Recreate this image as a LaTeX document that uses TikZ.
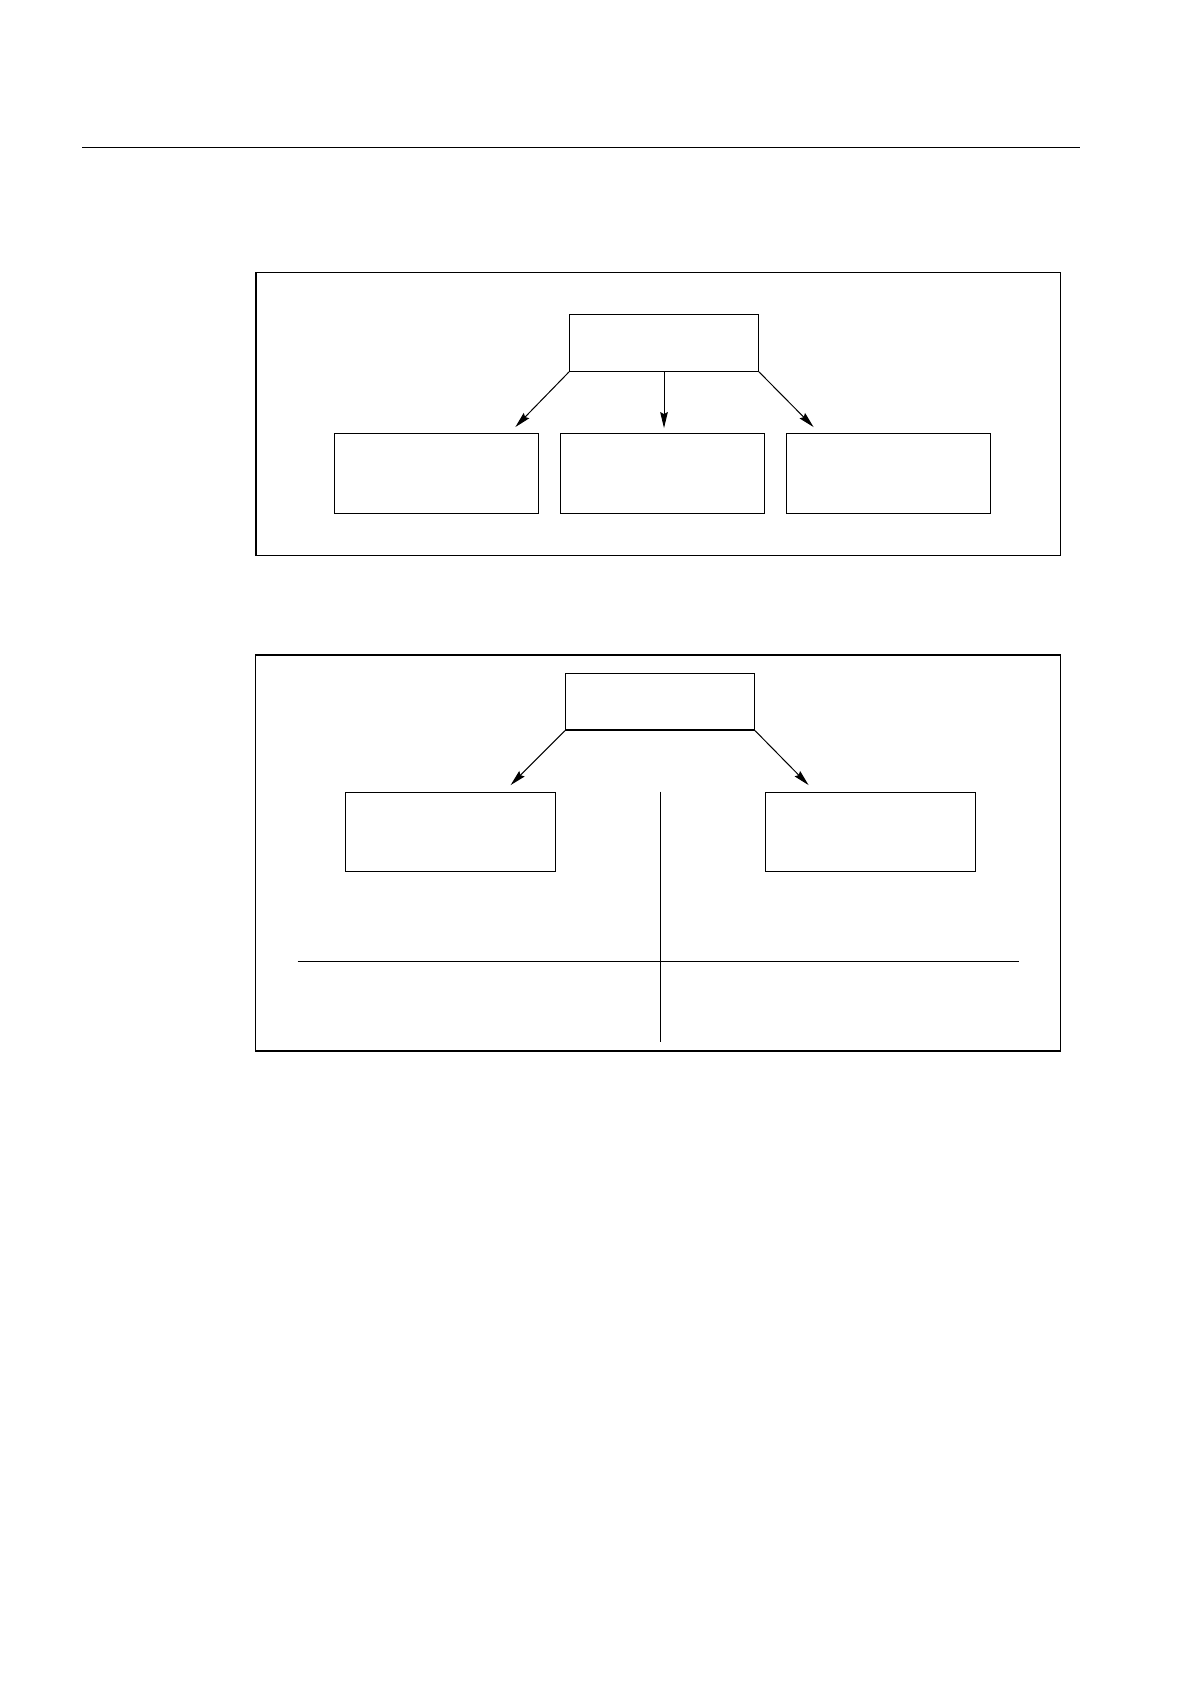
\documentclass[tikz,border=0pt]{standalone}
\usetikzlibrary{arrows.meta}
\begin{document}
\begin{tikzpicture}[>={Stealth[length=8pt,width=3.8pt,inset=1pt]},x=0.5pt,y=-0.5pt,
    headbox/.style={draw,line width=0.6pt,inner sep=0pt,minimum width=94.4pt,minimum height=28.3pt},
    leafbox/.style={draw,line width=0.6pt,inner sep=0pt,minimum width=102.2pt,minimum height=39.8pt},
    sidebox/.style={draw,line width=0.6pt,inner sep=0pt,minimum width=105pt,minimum height=39.5pt}]
        \useasboundingbox (0,0) rectangle (1190,1684);

        \coordinate (rulel) at (82,147.3);
        \coordinate (ruler) at (1080,147.3);
        \draw[line width=0.7pt] (rulel)--(ruler);

        \draw[line width=0.75pt] (256,272.3) rectangle (1060.3,555.3);
        \node[headbox] (head) at (664,343) {};
        \node[leafbox] (leafa) at (436.5,473.5) {};
        \node[leafbox] (leafb) at (662.5,473.5) {};
        \node[leafbox] (leafc) at (888.4,473.5) {};

        \draw[->,line width=0.5pt] (head.south west)--([xshift=-12pt,yshift=3pt]leafa.north east);
        \draw[->,line width=0.5pt,shorten >=2.5pt] (head.south)--(head.south |- leafb.north);
        \draw[->,line width=0.5pt] (head.south east)--([xshift=14pt,yshift=3pt]leafc.north west);

        \draw[line width=0.75pt] (255.7,655) rectangle (1060.3,1051);
        \node[headbox] (root) at (660,701.7) {};
        \node[sidebox] (left) at (450.2,831.8) {};
        \node[sidebox] (right) at (870.6,831.8) {};

        \draw[->,line width=0.5pt] (root.south west)--([xshift=-22.6pt,yshift=3.3pt]left.north east);
        \draw[->,line width=0.5pt] (root.south east)--([xshift=21.8pt,yshift=3.3pt]right.north west);

        \coordinate (splitend) at (660,1041.7);
        \coordinate (crossl) at (297.6,961.7);
        \coordinate (crossr) at (1018.7,961.7);
        \draw[line width=0.4pt] (root.south |- left.north)--(splitend);
        \draw[line width=0.5pt] (crossl)--(crossr);
      \end{tikzpicture}
\end{document}
